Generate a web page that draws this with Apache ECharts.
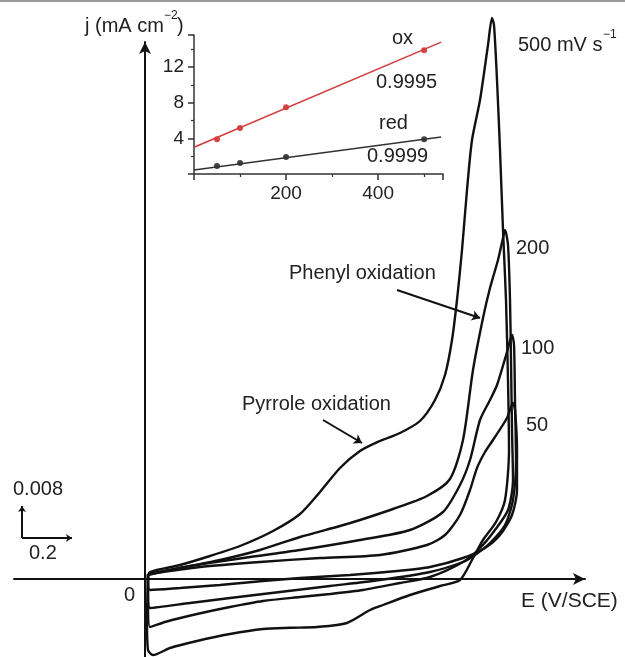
<!DOCTYPE html>
<html>
<head>
<meta charset="utf-8">
<title>CV at different scan rates</title>
<script src="https://cdn.jsdelivr.net/npm/echarts@6/dist/echarts.min.js"></script>
<style>
  html, body { margin: 0; padding: 0; background: #fff; }
  #chart { width: 625px; height: 657px; }
</style>
</head>
<body>
<div id="chart"></div>
<script>
// scan rates of the four loops (mV s^-1)
const scanRates = ['500', '200', '100', '50'];

// CV loops: [E (V/SCE), j (mA cm^-2)] - anodic sweep up, cathodic sweep back to 0 V
const cv500 = [
  [0.012, 0.0005], [0.02, 0.00175], [0.14, 0.0035], [0.26, 0.00575], [0.38, 0.00825],
  [0.512, 0.012], [0.62, 0.01625], [0.7, 0.02175], [0.78, 0.02775], [0.86, 0.032],
  [0.94, 0.0345], [1.02, 0.0365], [1.1, 0.0395], [1.16, 0.04475], [1.2, 0.051],
  [1.228, 0.05975], [1.248, 0.06975], [1.268, 0.08225], [1.288, 0.09725], [1.308, 0.10975],
  [1.34, 0.11975], [1.372, 0.1335], [1.388, 0.14025],
  [1.396, 0.1385], [1.408, 0.12475], [1.42, 0.10725], [1.432, 0.08725], [1.444, 0.06975],
  [1.452, 0.04975], [1.456, 0.03225], [1.44, 0.01975], [1.404, 0.01425], [1.352, 0.00975],
  [1.308, 0.00475], [1.26, -0.00025], [1.18, -0.00175], [1.06, -0.004], [0.952, -0.0065],
  [0.9, -0.00775], [0.808, -0.011], [0.688, -0.012], [0.58, -0.0122], [0.472, -0.0125],
  [0.34, -0.01375], [0.208, -0.0155], [0.1, -0.01725], [0.032, -0.019], [0.012, -0.01775],
  [0.008, -0.01025], [0.012, 0.0005]
];
const cv200 = [
  [0.012, 0.001], [0.14, 0.00275], [0.3, 0.00475], [0.46, 0.00725], [0.62, 0.0105],
  [0.78, 0.01325], [0.86, 0.01475], [0.992, 0.0175], [1.128, 0.02075], [1.22, 0.025],
  [1.272, 0.03475], [1.312, 0.05225], [1.352, 0.06525], [1.38, 0.07275], [1.412, 0.07975],
  [1.432, 0.08525], [1.44, 0.08725],
  [1.452, 0.0835], [1.46, 0.06975], [1.464, 0.05475], [1.468, 0.03725], [1.472, 0.02475],
  [1.452, 0.01725], [1.4, 0.01225], [1.34, 0.00775], [1.272, 0.00425], [1.14, 0.0005],
  [1.02, -0.001], [0.872, -0.00275], [0.74, -0.00375], [0.62, -0.0045], [0.472, -0.0055],
  [0.34, -0.007], [0.208, -0.00875], [0.08, -0.01075], [0.02, -0.012], [0.012, -0.00525],
  [0.012, 0.001]
];
const cv100 = [
  [0.012, 0.00125], [0.18, 0.00325], [0.42, 0.0055], [0.62, 0.00725], [0.86, 0.00975],
  [1.06, 0.01225], [1.192, 0.01675], [1.26, 0.0235], [1.3, 0.02975], [1.34, 0.03975],
  [1.38, 0.04475], [1.408, 0.0485], [1.448, 0.05675], [1.468, 0.061],
  [1.476, 0.0585], [1.48, 0.04475], [1.484, 0.02975], [1.472, 0.01975], [1.44, 0.0135],
  [1.38, 0.009], [1.32, 0.006], [1.272, 0.00425], [1.14, 0.00175], [0.94, -0.00025],
  [0.74, -0.00175], [0.54, -0.00325], [0.34, -0.00475], [0.18, -0.006], [0.02, -0.00725],
  [0.012, -0.00275], [0.012, 0.00125]
];
const cv50 = [
  [0.012, 0.00125], [0.22, 0.003], [0.46, 0.00425], [0.7, 0.00525], [0.94, 0.006],
  [1.128, 0.0085], [1.2, 0.011], [1.26, 0.016], [1.3, 0.02225], [1.328, 0.02775],
  [1.36, 0.03175], [1.392, 0.03475], [1.448, 0.04025], [1.472, 0.044],
  [1.48, 0.04225], [1.488, 0.03225], [1.488, 0.02225], [1.468, 0.016], [1.42, 0.011],
  [1.36, 0.00775], [1.272, 0.00525], [1.14, 0.003], [1.008, 0.002], [0.82, 0.001],
  [0.62, 0.00025], [0.472, -0.0005], [0.3, -0.0015], [0.14, -0.00225], [0.02, -0.00275],
  [0.012, -0.00025], [0.012, 0.00125]
];
const loops = [cv500, cv200, cv100, cv50];

// inset: peak current density vs scan rate
const insetRates = [50, 100, 200, 500];
const oxPeaks = [3.9, 5.15, 7.5, 13.9];
const redPeaks = [0.9, 1.23, 1.9, 3.9];
const oxFit = [[0, 3.0], [537, 14.8]];
const redFit = [[0, 0.45], [537, 4.15]];
const oxR = '0.9995';
const redR = '0.9999';

// scale bar lengths
const scaleE = 0.2;
const scaleJ = 0.008;

// annotation arrows (tail -> head) in E / j units
const phenylArrow = [[1.008, 0.07225], [1.34, 0.06525]];
const pyrroleArrow = [[0.712, 0.03975], [0.868, 0.034]];

const FONT = 'Liberation Sans, Arial, Helvetica, sans-serif';
const INK = '#111';
const TXT = '#222';
const barOrigin = [-0.492, 0.01025];

const chart = echarts.init(document.getElementById('chart'));

const txt = (text, x, y, opts = {}) => ({
  type: 'text',
  x, y,
  silent: true,
  style: Object.assign({
    text,
    fill: TXT,
    fontSize: 20,
    fontFamily: FONT,
    align: 'left',
    verticalAlign: 'middle'
  }, opts)
});

const insetAxisLabel = {
  color: TXT,
  fontSize: 19,
  fontFamily: FONT,
  margin: 10,
  showMaxLabel: false,
  formatter: (v) => (v === 0 ? '' : v)
};

const option = {
  animation: false,
  backgroundColor: '#fff',
  grid: [
    { left: 14, right: 40, top: 42, bottom: 0 },
    { left: 194, top: 35, width: 249, height: 139 }
  ],
  xAxis: [
    {
      type: 'value',
      gridIndex: 0,
      min: -0.524,
      max: 1.76,
      axisLine: {
        onZero: true,
        symbol: ['none', 'arrow'],
        symbolSize: [9, 12],
        lineStyle: { color: INK, width: 2 }
      },
      axisTick: { show: false },
      axisLabel: { show: false },
      splitLine: { show: false }
    },
    {
      type: 'value',
      gridIndex: 1,
      min: 0,
      max: 541,
      interval: 200,
      axisLine: { lineStyle: { color: '#333', width: 1.5 } },
      axisTick: { length: 6, lineStyle: { color: '#333', width: 1.5 } },
      minorTick: { show: true, splitNumber: 2, length: 3, lineStyle: { color: '#333', width: 1.2 } },
      axisLabel: insetAxisLabel,
      splitLine: { show: false }
    }
  ],
  yAxis: [
    {
      type: 'value',
      gridIndex: 0,
      min: -0.0195,
      max: 0.13425,
      axisLine: {
        onZero: true,
        symbol: ['none', 'arrow'],
        symbolSize: [9, 12],
        lineStyle: { color: INK, width: 2 }
      },
      axisTick: { show: false },
      axisLabel: { show: false },
      splitLine: { show: false }
    },
    {
      type: 'value',
      gridIndex: 1,
      min: 0,
      max: 15.6,
      interval: 4,
      axisLine: { lineStyle: { color: '#333', width: 1.5 } },
      axisTick: { length: 6, lineStyle: { color: '#333', width: 1.5 } },
      minorTick: { show: true, splitNumber: 2, length: 3, lineStyle: { color: '#333', width: 1.2 } },
      axisLabel: insetAxisLabel,
      splitLine: { show: false }
    }
  ],
  series: [
    ...loops.map((d, i) => ({
      name: scanRates[i],
      type: 'line',
      xAxisIndex: 0,
      yAxisIndex: 0,
      data: d,
      showSymbol: false,
      smooth: 0.25,
      clip: false,
      silent: true,
      lineStyle: { color: INK, width: 2.4 }
    })),
    {
      // scale bar + annotation arrows
      type: 'lines',
      coordinateSystem: 'cartesian2d',
      xAxisIndex: 0,
      yAxisIndex: 0,
      symbol: ['none', 'arrow'],
      symbolSize: 8,
      silent: true,
      lineStyle: { color: INK, width: 2, opacity: 1, curveness: 0 },
      data: [
        { coords: [barOrigin, [barOrigin[0], barOrigin[1] + scaleJ]], symbolSize: 6 },
        { coords: [barOrigin, [barOrigin[0] + scaleE, barOrigin[1]]], symbolSize: 6 },
        { coords: phenylArrow },
        { coords: pyrroleArrow }
      ]
    },
    {
      name: 'ox fit',
      type: 'line',
      xAxisIndex: 1,
      yAxisIndex: 1,
      data: oxFit,
      showSymbol: false,
      silent: true,
      lineStyle: { color: '#d23c3c', width: 1.6 }
    },
    {
      name: 'red fit',
      type: 'line',
      xAxisIndex: 1,
      yAxisIndex: 1,
      data: redFit,
      showSymbol: false,
      silent: true,
      lineStyle: { color: '#333', width: 1.6 }
    },
    {
      name: 'ox',
      type: 'scatter',
      xAxisIndex: 1,
      yAxisIndex: 1,
      data: insetRates.map((r, i) => [r, oxPeaks[i]]),
      symbolSize: 6,
      silent: true,
      itemStyle: { color: '#cc1a1a' }
    },
    {
      name: 'red',
      type: 'scatter',
      xAxisIndex: 1,
      yAxisIndex: 1,
      data: insetRates.map((r, i) => [r, redPeaks[i]]),
      symbolSize: 6,
      silent: true,
      itemStyle: { color: '#111' }
    }
  ],
  graphic: [
    { type: 'line', silent: true, shape: { x1: 0, y1: 1, x2: 625, y2: 1 }, style: { stroke: '#999', lineWidth: 2 } },
    // axis titles
    txt('j (mA cm', 85, 26),
    txt('\u22122', 164, 16, { fontSize: 12 }),
    txt(')', 177, 26),
    txt('E (V/SCE)', 521, 601, { fontSize: 21 }),
    txt('0', 124, 595),
    // scale bar labels
    txt(String(scaleJ), 13, 489),
    txt(String(scaleE), 29, 553),
    // scan rate labels
    txt('500 mV s', 518, 45),
    txt('\u22121', 603, 35, { fontSize: 12 }),
    txt(scanRates[1], 516, 248),
    txt(scanRates[2], 521, 348),
    txt(scanRates[3], 526, 425),
    // annotations
    txt('Phenyl oxidation', 289, 273),
    txt('Pyrrole oxidation', 242, 404),
    // inset labels
    txt('ox', 392, 38),
    txt(oxR, 376, 82),
    txt('red', 379, 123),
    txt(redR, 367, 156)
  ]
};

chart.setOption(option);
</script>
</body>
</html>
